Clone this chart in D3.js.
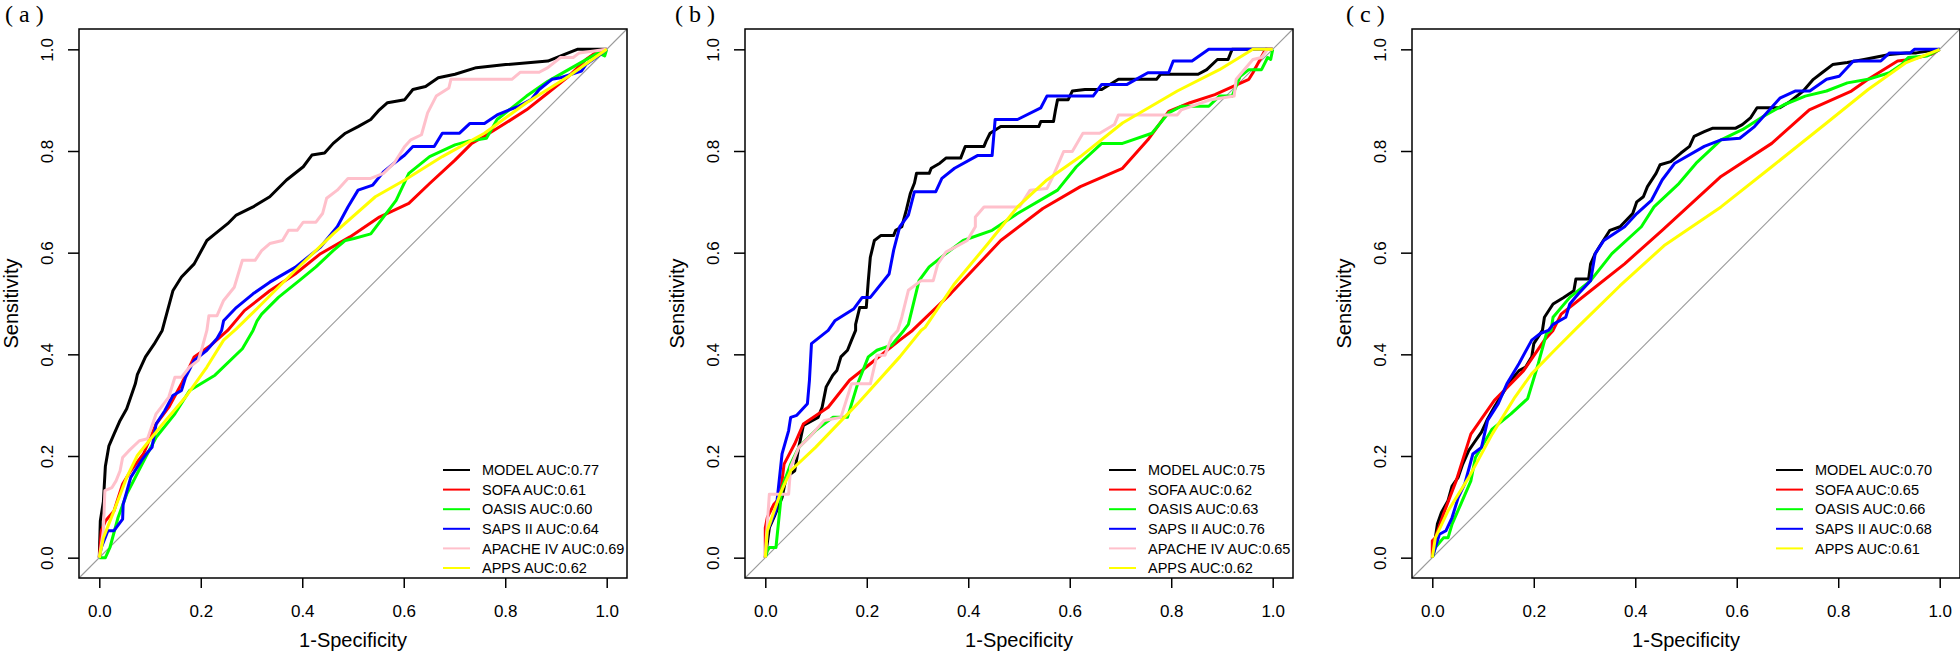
<!DOCTYPE html>
<html><head><meta charset="utf-8">
<script src="https://cdn.jsdelivr.net/npm/d3@7"></script>
<style>
html,body{margin:0;padding:0;background:#fff;}
svg{display:block;}
</style></head>
<body>
<svg id="chart" width="1960" height="659"></svg>
<script>
// ---------- data ----------
const panelLabels = ["(a)", "(b)", "(c)"];
const seriesNames = ["MODEL", "SOFA", "OASIS", "SAPS II", "APACHE IV", "APPS"];
const seriesColors = ["#000000", "#FF0000", "#00FF00", "#0000FF", "#FFC0CB", "#FFFF00"];
const aucA = ["0.77", "0.61", "0.60", "0.64", "0.69", "0.62"];
const aucB = ["0.75", "0.62", "0.63", "0.76", "0.65", "0.62"];
const aucC = ["0.70", "0.65", "0.66", "0.68", null, "0.61"];
const tickValues = [0, 0.2, 0.4, 0.6, 0.8, 1.0];
const xTitle = "1-Specificity";
const yTitle = "Sensitivity";

// Panel (a)
const aModel = [[0,0],[0.002,0.072],[0.008,0.11],[0.012,0.18],[0.019,0.22],[0.029,0.243],[0.041,0.27],[0.054,0.293],[0.071,0.342],[0.075,0.36],[0.091,0.395],[0.108,0.42],[0.124,0.447],[0.129,0.466],[0.145,0.525],[0.162,0.552],[0.187,0.578],[0.212,0.624],[0.228,0.637],[0.253,0.657],[0.270,0.674],[0.303,0.69],[0.336,0.71],[0.369,0.743],[0.402,0.769],[0.419,0.792],[0.444,0.796],[0.461,0.815],[0.485,0.835],[0.510,0.848],[0.535,0.862],[0.552,0.881],[0.568,0.895],[0.602,0.901],[0.618,0.921],[0.643,0.927],[0.668,0.944],[0.701,0.951],[0.743,0.964],[0.801,0.970],[0.884,0.977],[0.917,0.99],[0.942,1],[1,1]];
const aSofa = [[0,0],[0.004,0.053],[0.012,0.072],[0.029,0.092],[0.046,0.145],[0.062,0.171],[0.087,0.204],[0.112,0.263],[0.137,0.296],[0.162,0.342],[0.187,0.395],[0.22,0.418],[0.253,0.447],[0.286,0.486],[0.336,0.525],[0.386,0.558],[0.436,0.598],[0.494,0.631],[0.552,0.67],[0.61,0.697],[0.651,0.736],[0.701,0.782],[0.734,0.815],[0.759,0.829],[0.801,0.855],[0.842,0.881],[0.884,0.914],[0.925,0.947],[0.959,0.98],[0.983,0.997],[1,1]];
const aOasis = [[0,0],[0.012,0],[0.021,0.02],[0.037,0.079],[0.054,0.125],[0.071,0.158],[0.091,0.197],[0.112,0.237],[0.149,0.283],[0.178,0.329],[0.228,0.359],[0.282,0.411],[0.303,0.447],[0.311,0.466],[0.32,0.479],[0.353,0.512],[0.394,0.545],[0.427,0.572],[0.461,0.604],[0.485,0.624],[0.502,0.628],[0.535,0.637],[0.56,0.67],[0.585,0.703],[0.61,0.756],[0.651,0.789],[0.701,0.812],[0.726,0.819],[0.763,0.825],[0.784,0.862],[0.842,0.908],[0.884,0.937],[0.942,0.97],[0.983,0.993],[0.996,0.987],[1,1]];
const aSaps = [[0,0],[0.004,0.02],[0.017,0.053],[0.029,0.053],[0.046,0.076],[0.047,0.105],[0.062,0.158],[0.083,0.191],[0.095,0.207],[0.104,0.217],[0.112,0.263],[0.129,0.289],[0.145,0.319],[0.162,0.329],[0.17,0.355],[0.187,0.388],[0.212,0.408],[0.232,0.431],[0.241,0.447],[0.245,0.466],[0.27,0.492],[0.303,0.519],[0.336,0.542],[0.386,0.571],[0.436,0.611],[0.469,0.651],[0.49,0.69],[0.51,0.723],[0.539,0.733],[0.56,0.759],[0.581,0.776],[0.602,0.792],[0.618,0.809],[0.66,0.809],[0.676,0.835],[0.71,0.835],[0.73,0.854],[0.759,0.854],[0.784,0.871],[0.826,0.888],[0.851,0.901],[0.867,0.921],[0.892,0.941],[0.909,0.944],[0.95,0.957],[0.959,0.97],[0.983,0.987],[1,1]];
const aApache = [[0,0],[0.008,0.053],[0.011,0.132],[0.025,0.138],[0.033,0.151],[0.041,0.171],[0.046,0.197],[0.058,0.21],[0.079,0.23],[0.095,0.234],[0.112,0.283],[0.137,0.316],[0.149,0.355],[0.162,0.355],[0.178,0.375],[0.195,0.388],[0.203,0.414],[0.212,0.447],[0.216,0.476],[0.232,0.476],[0.245,0.506],[0.266,0.532],[0.282,0.585],[0.307,0.585],[0.32,0.604],[0.336,0.618],[0.361,0.624],[0.373,0.644],[0.39,0.644],[0.402,0.66],[0.427,0.66],[0.44,0.677],[0.448,0.707],[0.469,0.723],[0.49,0.746],[0.535,0.746],[0.56,0.756],[0.581,0.776],[0.602,0.809],[0.614,0.822],[0.635,0.832],[0.647,0.875],[0.664,0.908],[0.689,0.924],[0.693,0.941],[0.813,0.941],[0.83,0.955],[0.867,0.955],[0.884,0.964],[0.909,0.984],[0.934,0.984],[0.946,0.993],[1,1]];
const aApps = [[0,0],[0.008,0.039],[0.029,0.092],[0.054,0.158],[0.075,0.201],[0.12,0.257],[0.17,0.316],[0.212,0.375],[0.245,0.428],[0.27,0.45],[0.32,0.499],[0.386,0.565],[0.461,0.637],[0.544,0.71],[0.602,0.743],[0.676,0.789],[0.759,0.835],[0.842,0.895],[0.925,0.947],[1,1]];

// Panel (b)
const bModel = [[0,0],[0.008,0.059],[0.017,0.079],[0.033,0.118],[0.041,0.158],[0.058,0.171],[0.066,0.217],[0.075,0.26],[0.104,0.276],[0.112,0.296],[0.12,0.336],[0.133,0.359],[0.141,0.368],[0.149,0.395],[0.162,0.408],[0.17,0.428],[0.178,0.447],[0.178,0.459],[0.186,0.492],[0.199,0.492],[0.203,0.545],[0.207,0.591],[0.215,0.624],[0.228,0.634],[0.253,0.634],[0.257,0.644],[0.269,0.651],[0.278,0.684],[0.286,0.717],[0.294,0.737],[0.298,0.756],[0.323,0.756],[0.327,0.766],[0.344,0.776],[0.356,0.786],[0.385,0.786],[0.394,0.809],[0.431,0.809],[0.435,0.819],[0.443,0.835],[0.464,0.848],[0.539,0.848],[0.543,0.858],[0.568,0.858],[0.572,0.881],[0.576,0.901],[0.597,0.901],[0.605,0.918],[0.63,0.921],[0.663,0.921],[0.696,0.941],[0.771,0.941],[0.779,0.951],[0.853,0.951],[0.87,0.96],[0.891,0.98],[0.912,0.98],[0.92,1],[1,1]];
const bSofa = [[0,0],[0,0.059],[0.004,0.079],[0.017,0.105],[0.029,0.118],[0.037,0.184],[0.058,0.224],[0.075,0.263],[0.124,0.296],[0.166,0.349],[0.199,0.375],[0.265,0.428],[0.29,0.447],[0.365,0.519],[0.464,0.624],[0.547,0.687],[0.621,0.73],[0.704,0.766],[0.754,0.822],[0.795,0.878],[0.837,0.895],[0.886,0.911],[0.953,0.941],[0.961,0.954],[0.986,1],[1,1]];
const bOasis = [[0,0],[0.004,0.013],[0.008,0.02],[0.021,0.02],[0.033,0.138],[0.05,0.184],[0.066,0.217],[0.099,0.25],[0.133,0.276],[0.162,0.276],[0.182,0.342],[0.203,0.395],[0.22,0.408],[0.249,0.418],[0.273,0.447],[0.282,0.459],[0.303,0.545],[0.323,0.572],[0.356,0.598],[0.39,0.624],[0.447,0.644],[0.497,0.677],[0.576,0.723],[0.613,0.769],[0.663,0.815],[0.704,0.815],[0.762,0.835],[0.795,0.875],[0.82,0.888],[0.874,0.888],[0.895,0.908],[0.92,0.908],[0.936,0.947],[0.953,0.96],[0.978,0.96],[0.99,0.984],[0.996,0.98],[1,1]];
const bSaps = [[0,0],[0.004,0.053],[0.021,0.092],[0.033,0.204],[0.046,0.25],[0.05,0.276],[0.062,0.28],[0.083,0.303],[0.087,0.349],[0.091,0.421],[0.124,0.447],[0.137,0.466],[0.174,0.489],[0.191,0.512],[0.207,0.512],[0.244,0.558],[0.253,0.605],[0.265,0.651],[0.282,0.674],[0.294,0.72],[0.336,0.72],[0.348,0.746],[0.373,0.766],[0.418,0.791],[0.447,0.791],[0.453,0.862],[0.497,0.862],[0.543,0.885],[0.555,0.908],[0.646,0.908],[0.663,0.931],[0.713,0.931],[0.754,0.954],[0.795,0.954],[0.804,0.977],[0.841,0.977],[0.874,1],[1,1]];
const bApache = [[0,0],[0.002,0.039],[0.008,0.125],[0.046,0.125],[0.05,0.178],[0.066,0.217],[0.087,0.237],[0.116,0.27],[0.149,0.276],[0.17,0.342],[0.207,0.342],[0.22,0.398],[0.236,0.398],[0.249,0.434],[0.261,0.447],[0.269,0.473],[0.282,0.526],[0.307,0.545],[0.331,0.545],[0.34,0.578],[0.356,0.601],[0.398,0.624],[0.414,0.651],[0.414,0.67],[0.431,0.69],[0.501,0.69],[0.522,0.723],[0.555,0.726],[0.567,0.75],[0.588,0.799],[0.605,0.799],[0.626,0.835],[0.659,0.835],[0.688,0.852],[0.696,0.871],[0.812,0.871],[0.82,0.881],[0.878,0.901],[0.924,0.908],[0.928,0.941],[0.961,0.98],[0.978,0.984],[0.99,1],[1,1]];
const bApps = [[0,0],[0.004,0.053],[0.029,0.125],[0.05,0.171],[0.099,0.217],[0.182,0.303],[0.265,0.395],[0.307,0.447],[0.315,0.453],[0.373,0.539],[0.439,0.618],[0.497,0.69],[0.555,0.743],[0.621,0.789],[0.704,0.855],[0.812,0.918],[0.895,0.96],[0.961,1],[1,1]];

// Panel (c)
const cModel = [[0,0],[0.004,0.026],[0.01,0.066],[0.018,0.089],[0.031,0.112],[0.039,0.141],[0.051,0.158],[0.06,0.184],[0.072,0.211],[0.085,0.23],[0.097,0.247],[0.109,0.273],[0.122,0.296],[0.138,0.322],[0.155,0.349],[0.171,0.368],[0.184,0.375],[0.196,0.395],[0.2,0.421],[0.217,0.447],[0.221,0.473],[0.238,0.499],[0.259,0.512],[0.279,0.525],[0.283,0.548],[0.308,0.548],[0.312,0.578],[0.321,0.598],[0.329,0.611],[0.35,0.644],[0.37,0.651],[0.395,0.677],[0.403,0.7],[0.416,0.71],[0.424,0.73],[0.441,0.756],[0.449,0.773],[0.47,0.779],[0.49,0.796],[0.507,0.809],[0.516,0.829],[0.536,0.838],[0.553,0.845],[0.598,0.845],[0.611,0.852],[0.627,0.865],[0.64,0.885],[0.685,0.885],[0.706,0.898],[0.731,0.918],[0.751,0.941],[0.768,0.954],[0.789,0.97],[0.818,0.974],[0.851,0.98],[0.901,0.99],[0.934,0.993],[0.954,0.993],[1,1]];
const cSofa = [[0,0],[0,0.033],[0.006,0.039],[0.022,0.086],[0.047,0.151],[0.076,0.243],[0.122,0.309],[0.18,0.368],[0.221,0.428],[0.238,0.447],[0.254,0.479],[0.312,0.525],[0.379,0.578],[0.453,0.644],[0.511,0.697],[0.569,0.75],[0.669,0.815],[0.743,0.881],[0.826,0.918],[0.859,0.941],[0.917,0.977],[0.942,0.98],[0.983,0.99],[1,1]];
const cOasis = [[0,0],[0.006,0.02],[0.022,0.039],[0.031,0.039],[0.039,0.066],[0.056,0.105],[0.076,0.151],[0.085,0.197],[0.118,0.253],[0.155,0.283],[0.188,0.313],[0.209,0.382],[0.225,0.441],[0.234,0.447],[0.238,0.473],[0.271,0.512],[0.312,0.545],[0.354,0.598],[0.412,0.651],[0.437,0.69],[0.486,0.736],[0.52,0.776],[0.569,0.822],[0.611,0.842],[0.652,0.868],[0.693,0.891],[0.735,0.908],[0.777,0.918],[0.818,0.934],[0.859,0.941],[0.901,0.954],[0.925,0.97],[0.938,0.984],[0.975,0.987],[1,1]];
const cSaps = [[0,0],[0.006,0.02],[0.014,0.046],[0.027,0.053],[0.039,0.079],[0.051,0.118],[0.064,0.145],[0.08,0.204],[0.097,0.217],[0.109,0.27],[0.13,0.303],[0.147,0.342],[0.171,0.382],[0.196,0.428],[0.213,0.441],[0.229,0.447],[0.238,0.459],[0.263,0.473],[0.271,0.499],[0.288,0.519],[0.312,0.545],[0.321,0.598],[0.338,0.624],[0.379,0.651],[0.403,0.677],[0.432,0.703],[0.453,0.743],[0.478,0.776],[0.536,0.809],[0.569,0.822],[0.606,0.825],[0.635,0.848],[0.685,0.904],[0.715,0.918],[0.744,0.918],[0.777,0.941],[0.802,0.947],[0.83,0.977],[0.884,0.977],[0.901,0.993],[0.942,0.993],[0.95,1],[1,1]];
const cApps = [[0,0],[0.006,0.039],[0.031,0.092],[0.072,0.158],[0.118,0.243],[0.163,0.316],[0.196,0.362],[0.24,0.407],[0.285,0.452],[0.37,0.535],[0.457,0.614],[0.569,0.69],[0.669,0.769],[0.777,0.855],[0.859,0.921],[0.934,0.974],[1,1]];

const panelCurves = [
  [aModel, aSofa, aOasis, aSaps, aApache, aApps],
  [bModel, bSofa, bOasis, bSaps, bApache, bApps],
  [cModel, cSofa, cOasis, cSaps, null, cApps]
];
const panelAucs = [aucA, aucB, aucC];

// ---------- layout ----------
const svg = d3.select("#chart");
const boxLefts = [79, 745, 1412];
const labelX = [5, 675, 1346];
const boxTop = 29, boxW = 548, boxH = 549;
const font = "'Liberation Sans', Arial, sans-serif";

panelLabels.forEach((lab, p) => {
  const L = boxLefts[p];
  const x = d3.scaleLinear().domain([-0.04, 1.04]).range([L, L + boxW]);
  const y = d3.scaleLinear().domain([-0.04, 1.04]).range([boxTop + boxH, boxTop]);
  const g = svg.append("g");

  // panel label
  g.append("text").attr("x", labelX[p]).attr("y", 22)
    .attr("font-family", "'Liberation Serif','Times New Roman',serif")
    .attr("font-size", 24).attr("xml:space", "preserve")
    .style("white-space", "pre")
    .text(lab.replace("(", "( ").replace(")", " )"));

  // diagonal reference line
  g.append("line")
    .attr("x1", x(-0.04)).attr("y1", y(-0.04))
    .attr("x2", x(1.04)).attr("y2", y(1.04))
    .attr("stroke", "#9a9a9a").attr("stroke-width", 1.1);

  // curves
  const line = d3.line().x(d => x(d[0])).y(d => y(d[1]));
  panelCurves[p].forEach((c, i) => {
    if (!c) return;
    g.append("path").datum(c).attr("d", line)
      .attr("fill", "none").attr("stroke", seriesColors[i])
      .attr("stroke-width", 3).attr("stroke-linejoin", "round");
  });

  // box
  g.append("rect").attr("x", L).attr("y", boxTop).attr("width", boxW).attr("height", boxH)
    .attr("fill", "none").attr("stroke", "#000").attr("stroke-width", 1.5);

  // x axis
  const xa = g.append("g").attr("transform", `translate(0,${boxTop + boxH})`)
    .call(d3.axisBottom(x).tickValues(tickValues).tickFormat(d3.format(".1f")).tickSize(10).tickPadding(17));
  xa.select(".domain").remove();
  xa.selectAll("line").attr("stroke-width", 1.5);
  xa.selectAll("text").attr("font-family", font).attr("font-size", 17).attr("fill", "#000");

  // y axis
  const ya = g.append("g").attr("transform", `translate(${L},0)`)
    .call(d3.axisLeft(y).tickValues(tickValues).tickFormat(d3.format(".1f")).tickSize(11));
  ya.select(".domain").remove();
  ya.selectAll("line").attr("stroke-width", 1.5);
  ya.selectAll("text").attr("font-family", font).attr("font-size", 17).attr("fill", "#000")
    .attr("x", null).attr("dy", null).attr("text-anchor", "middle")
    .attr("transform", "translate(-26,0) rotate(-90)");

  // axis titles
  g.append("text").attr("x", x(0.5)).attr("y", 647).attr("text-anchor", "middle")
    .attr("font-family", font).attr("font-size", 20).text(xTitle);
  g.append("text").attr("transform", `translate(${L - 61},${(boxTop + boxTop + boxH) / 2}) rotate(-90)`)
    .attr("text-anchor", "middle").attr("font-family", font).attr("font-size", 20).text(yTitle);

  // legend
  let row = 0;
  seriesNames.forEach((nm, i) => {
    const auc = panelAucs[p][i];
    if (auc === null) return;
    const ly = 470 + row * 19.6;
    g.append("line").attr("x1", L + 364).attr("x2", L + 391).attr("y1", ly).attr("y2", ly)
      .attr("stroke", seriesColors[i]).attr("stroke-width", 2);
    g.append("text").attr("x", L + 403).attr("y", ly).attr("dy", "0.36em")
      .attr("font-family", font).attr("font-size", 14.5).text(`${nm} AUC:${auc}`);
    row++;
  });
});
</script>
</body></html>
